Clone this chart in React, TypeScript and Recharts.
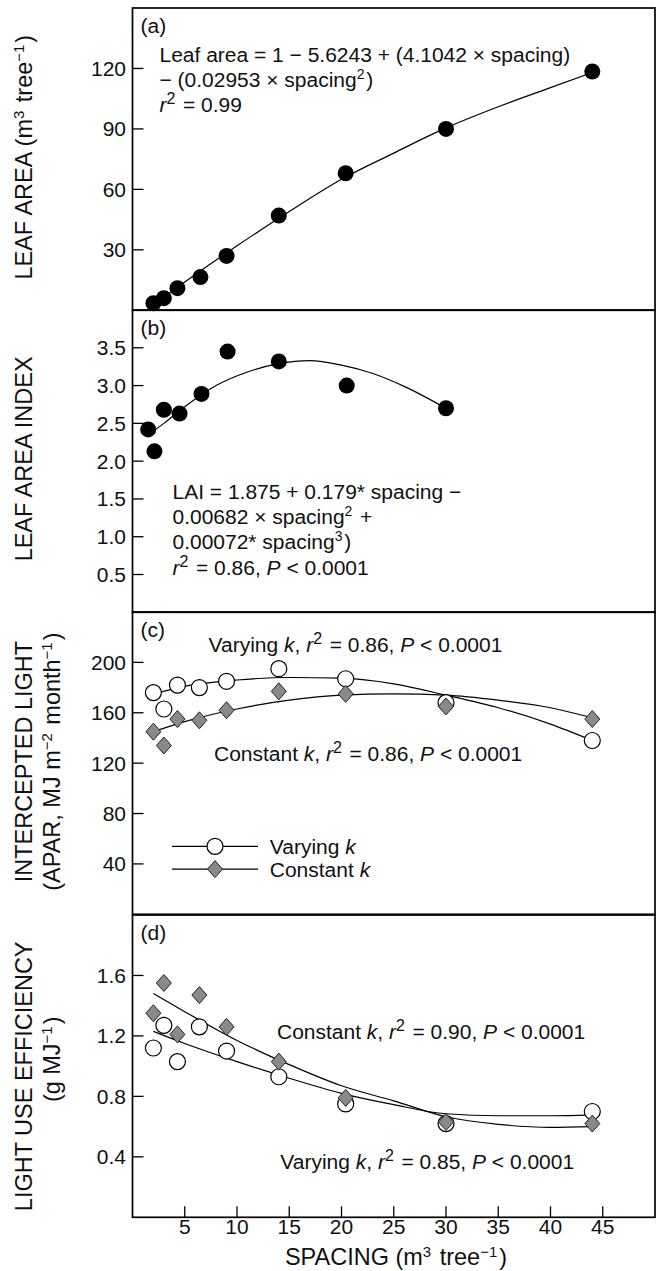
import React from "react";
import { ComposedChart, Line, Scatter, XAxis, YAxis } from "recharts";

// ---- data ----
const xTicks = [5, 10, 15, 20, 25, 30, 35, 40, 45];

// (a) leaf area
const spacingA = [2, 3, 4.3, 6.5, 9, 14, 20.4, 30, 44];
const leafArea = [3.5, 6, 11, 16.5, 27, 47, 68, 90, 118.5];
const fitAx = [2, 5, 10, 15, 20, 25, 30, 35, 40, 44];
const fitAy = [2.5, 14, 32, 49, 65, 78, 90.5, 101, 110.5, 118];
const ticksA = [30, 60, 90, 120];

// (b) leaf area index
const spacingB = [1.5, 2.1, 3, 4.5, 6.6, 9.1, 14, 20.5, 30];
const lai = [2.42, 2.13, 2.68, 2.63, 2.89, 3.45, 3.32, 3.0, 2.7];
const fitBx = [1.5, 3, 5, 8, 11, 14, 17, 20, 23, 26, 30];
const fitBy = [2.35, 2.5, 2.72, 3.0, 3.18, 3.29, 3.33, 3.27, 3.16, 2.99, 2.7];
const ticksB = [0.5, 1.0, 1.5, 2.0, 2.5, 3.0, 3.5];

// (c) intercepted light
const spacingC = [2, 3, 4.3, 6.4, 9, 14, 20.4, 30, 44];
const aparVarying = [176, 163, 182, 180, 185, 195, 187, 168, 138];
const aparConstant = [145, 134, 155, 154, 162, 177, 175, 165, 155];
const fitCx = [2, 5, 10, 15, 20, 25, 30, 35, 40, 44];
const fitCvary = [175, 181, 186, 188, 187.5, 183, 174, 164, 151, 138];
const fitCconst = [145, 153, 163, 170, 174, 175, 174, 170, 164, 156];
const ticksC = [40, 80, 120, 160, 200];

// (d) light use efficiency
const spacingD = [2, 3, 4.3, 6.4, 9, 14, 20.4, 30, 44];
const lueVarying = [1.12, 1.27, 1.03, 1.26, 1.1, 0.93, 0.75, 0.62, 0.7];
const lueConstant = [1.35, 1.55, 1.21, 1.47, 1.26, 1.03, 0.79, 0.63, 0.62];
const fitDx = [2, 5, 10, 15, 20, 25, 30, 35, 40, 44];
const fitDconst = [1.48, 1.36, 1.17, 1.01, 0.87, 0.77, 0.665, 0.615, 0.595, 0.6];
const fitDvary = [1.23, 1.15, 1.03, 0.92, 0.82, 0.745, 0.685, 0.672, 0.672, 0.678];
const ticksD = [0.4, 0.8, 1.2, 1.6];

const pts = (xs: number[], ys: number[]) => xs.map((x, i) => ({ x, y: ys[i] }));

// ---- layout ----
const W = 656;
const LEFT = 132.5;
const RIGHT = 655;
const H = 302.3;
const PAD = 4;
const TOPS = [7.8, 7.8 + H, 7.8 + 2 * H, 7.8 + 3 * H];
const FONT = '"Liberation Sans", Arial, Helvetica, sans-serif';
const FS = 21;
const TFS = 23.5;

const Sup = ({ children, size = 16, up = 8 }: { children: React.ReactNode; size?: number; up?: number }) => (
  <>
    <tspan dy={-up} fontSize={size}>{children}</tspan>
    <tspan dy={up}>{"\u200a"}</tspan>
  </>
);

const I = ({ children }: { children: React.ReactNode }) => <tspan fontStyle="italic">{children}</tspan>;

const blackDot = (p: any) => <circle cx={p.cx} cy={p.cy} r={8} fill="#000" />;
const openDot = (p: any) => <circle cx={p.cx} cy={p.cy} r={8} fill="#fff" stroke="#000" strokeWidth={1.2} />;
const diamond = (p: any) => (
  <path
    d={`M${p.cx},${p.cy - 8.5} L${p.cx + 7.5},${p.cy} L${p.cx},${p.cy + 8.5} L${p.cx - 7.5},${p.cy} Z`}
    fill="#898989"
    stroke="#222"
    strokeWidth={1}
  />
);

function yTick(fmt: (v: number) => string) {
  return (p: any) => (
    <g>
      <line x1={LEFT} x2={LEFT + 11} y1={p.y} y2={p.y} stroke="#000" strokeWidth={1.3} />
      <text x={LEFT - 6.5} y={p.y + 7.5} textAnchor="end" fontSize={FS} fontFamily={FONT} fill="#111">
        {fmt(p.payload.value)}
      </text>
    </g>
  );
}

function xTick(showLabel: boolean) {
  const bottom = PAD + H;
  return (p: any) => (
    <g>
      <line x1={p.x} x2={p.x} y1={bottom} y2={bottom - 11} stroke="#000" strokeWidth={1.3} />
      {showLabel && (
        <text x={p.x} y={bottom + 16.8} textAnchor="middle" fontSize={FS} fontFamily={FONT} fill="#111">
          {p.payload.value}
        </text>
      )}
    </g>
  );
}

const frame = (
  <rect x={LEFT} y={PAD} width={RIGHT - LEFT} height={H} fill="none" stroke="#000" strokeWidth={1.7} />
);

function axes(domain: [number, number], ticks: number[], fmt: (v: number) => string, showX: boolean, xh: number) {
  return [
    <XAxis
      key="x"
      type="number"
      dataKey="x"
      domain={[0, 50]}
      ticks={xTicks}
      interval={0}
      axisLine={false}
      tickLine={false}
      tick={xTick(showX)}
      height={xh}
    />,
    <YAxis
      key="y"
      type="number"
      dataKey="y"
      domain={domain}
      ticks={ticks}
      interval={0}
      axisLine={false}
      tickLine={false}
      tick={yTick(fmt)}
      width={LEFT}
    />,
  ];
}

const chartStyle = (i: number): React.CSSProperties => ({ position: "absolute", left: 0, top: TOPS[i] - PAD });
const plain = (v: number) => String(v);
const oneDec = (v: number) => v.toFixed(1);

export default function App() {
  const dH = 1271 - (TOPS[3] - PAD);
  return (
    <div style={{ position: "absolute", left: 0, top: 0, width: W, height: 1271, background: "#fff" }}>
      {/* (a) */}
      <div style={chartStyle(0)}>
        <ComposedChart width={W} height={H + 2 * PAD} margin={{ top: PAD, right: W - RIGHT, bottom: PAD, left: 0 }}>
          {axes([0, 150], ticksA, plain, false, 0)}
          <Line data={pts(fitAx, fitAy)} dataKey="y" type="monotone" dot={false} stroke="#000" strokeWidth={1.2} isAnimationActive={false} />
          <Scatter data={pts(spacingA, leafArea)} dataKey="y" shape={blackDot} isAnimationActive={false} />
          {frame}
          <g transform={`translate(0, ${-(TOPS[0] - PAD)})`} fontFamily={FONT} fontSize={FS} fill="#111">
            <text x={140.6} y={32.8}>(a)</text>
            <text x={159.5} y={61.5}>Leaf area = 1 − 5.6243 + (4.1042 × spacing)</text>
            <text x={159.5} y={86.5}>
              − (0.02953 × spacing<Sup size={14}>2</Sup>)
            </text>
            <text x={159.5} y={112}>
              <I>r</I>
              <Sup>2</Sup> = 0.99
            </text>
            <text transform="translate(32,157) rotate(-90)" textAnchor="middle" fontSize={TFS}>
              LEAF AREA (m<Sup size={15}>3</Sup> tree<Sup size={15}>−1</Sup>)
            </text>
          </g>
        </ComposedChart>
      </div>

      {/* (b) */}
      <div style={chartStyle(1)}>
        <ComposedChart width={W} height={H + 2 * PAD} margin={{ top: PAD, right: W - RIGHT, bottom: PAD, left: 0 }}>
          {axes([0, 4], ticksB, oneDec, false, 0)}
          <Line data={pts(fitBx, fitBy)} dataKey="y" type="monotone" dot={false} stroke="#000" strokeWidth={1.2} isAnimationActive={false} />
          <Scatter data={pts(spacingB, lai)} dataKey="y" shape={blackDot} isAnimationActive={false} />
          {frame}
          <g transform={`translate(0, ${-(TOPS[1] - PAD)})`} fontFamily={FONT} fontSize={FS} fill="#111">
            <text x={140.6} y={TOPS[1] + 25}>(b)</text>
            <text x={172.5} y={499}>LAI = 1.875 + 0.179* spacing −</text>
            <text x={172.5} y={524}>
              0.00682 × spacing<Sup size={14}>2</Sup> +
            </text>
            <text x={172.5} y={549}>
              0.00072* spacing<Sup size={14}>3</Sup>)
            </text>
            <text x={172.5} y={575}>
              <I>r</I>
              <Sup>2</Sup> = 0.86, <I>P</I> &lt; 0.0001
            </text>
            <text transform="translate(32,459) rotate(-90)" textAnchor="middle" fontSize={TFS}>
              LEAF AREA INDEX
            </text>
          </g>
        </ComposedChart>
      </div>

      {/* (c) */}
      <div style={chartStyle(2)}>
        <ComposedChart width={W} height={H + 2 * PAD} margin={{ top: PAD, right: W - RIGHT, bottom: PAD, left: 0 }}>
          {axes([0, 240], ticksC, plain, false, 0)}
          <Line data={pts(fitCx, fitCvary)} dataKey="y" type="monotone" dot={false} stroke="#000" strokeWidth={1.2} isAnimationActive={false} />
          <Line data={pts(fitCx, fitCconst)} dataKey="y" type="monotone" dot={false} stroke="#000" strokeWidth={1.2} isAnimationActive={false} />
          <Scatter data={pts(spacingC, aparVarying)} dataKey="y" shape={openDot} isAnimationActive={false} />
          <Scatter data={pts(spacingC, aparConstant)} dataKey="y" shape={diamond} isAnimationActive={false} />
          {frame}
          <g transform={`translate(0, ${-(TOPS[2] - PAD)})`} fontFamily={FONT} fontSize={FS} fill="#111">
            <text x={140.6} y={TOPS[2] + 25}>(c)</text>
            <text x={208.6} y={652}>
              Varying <I>k</I>, <I>r</I>
              <Sup>2</Sup> = 0.86, <I>P</I> &lt; 0.0001
            </text>
            <text x={214} y={761}>
              Constant <I>k</I>, <I>r</I>
              <Sup>2</Sup> = 0.86, <I>P</I> &lt; 0.0001
            </text>
            {/* legend */}
            <line x1={172} x2={258} y1={846.7} y2={846.7} stroke="#000" strokeWidth={1.2} />
            {openDot({ cx: 215, cy: 846.7 })}
            <line x1={172} x2={258} y1={869.5} y2={869.5} stroke="#000" strokeWidth={1.2} />
            {diamond({ cx: 215, cy: 869.5 })}
            <text x={269.8} y={854.2}>
              Varying <I>k</I>
            </text>
            <text x={269.8} y={877}>
              Constant <I>k</I>
            </text>
            <text transform="translate(32,762) rotate(-90)" textAnchor="middle" fontSize={TFS}>
              INTERCEPTED LIGHT
            </text>
            <text transform="translate(60,762) rotate(-90)" textAnchor="middle" fontSize={TFS}>
              (APAR, MJ m<Sup size={15}>−2</Sup> month<Sup size={15}>−1</Sup>)
            </text>
          </g>
        </ComposedChart>
      </div>

      {/* (d) */}
      <div style={chartStyle(3)}>
        <ComposedChart width={W} height={dH} margin={{ top: PAD, right: W - RIGHT, bottom: 0, left: 0 }}>
          {axes([0, 2], ticksD, oneDec, true, dH - PAD - H)}
          <Line data={pts(fitDx, fitDconst)} dataKey="y" type="monotone" dot={false} stroke="#000" strokeWidth={1.2} isAnimationActive={false} />
          <Line data={pts(fitDx, fitDvary)} dataKey="y" type="monotone" dot={false} stroke="#000" strokeWidth={1.2} isAnimationActive={false} />
          <Scatter data={pts(spacingD, lueVarying)} dataKey="y" shape={openDot} isAnimationActive={false} />
          <Scatter data={pts(spacingD, lueConstant)} dataKey="y" shape={diamond} isAnimationActive={false} />
          {frame}
          <g transform={`translate(0, ${-(TOPS[3] - PAD)})`} fontFamily={FONT} fontSize={FS} fill="#111">
            <text x={140.6} y={TOPS[3] + 25}>(d)</text>
            <text x={277} y={1039}>
              Constant <I>k</I>, <I>r</I>
              <Sup>2</Sup> = 0.90, <I>P</I> &lt; 0.0001
            </text>
            <text x={280.3} y={1169}>
              Varying <I>k</I>, <I>r</I>
              <Sup>2</Sup> = 0.85, <I>P</I> &lt; 0.0001
            </text>
            <text transform="translate(32,1076) rotate(-90)" textAnchor="middle" fontSize={TFS}>
              LIGHT USE EFFICIENCY
            </text>
            <text transform="translate(60,1059) rotate(-90)" textAnchor="middle" fontSize={TFS}>
              (g MJ<Sup size={15}>−1</Sup>)
            </text>
            <text x={396} y={1265} textAnchor="middle" fontSize={TFS}>
              SPACING (m<Sup size={15}>3</Sup> tree<Sup size={15}>−1</Sup>)
            </text>
          </g>
        </ComposedChart>
      </div>
    </div>
  );
}
